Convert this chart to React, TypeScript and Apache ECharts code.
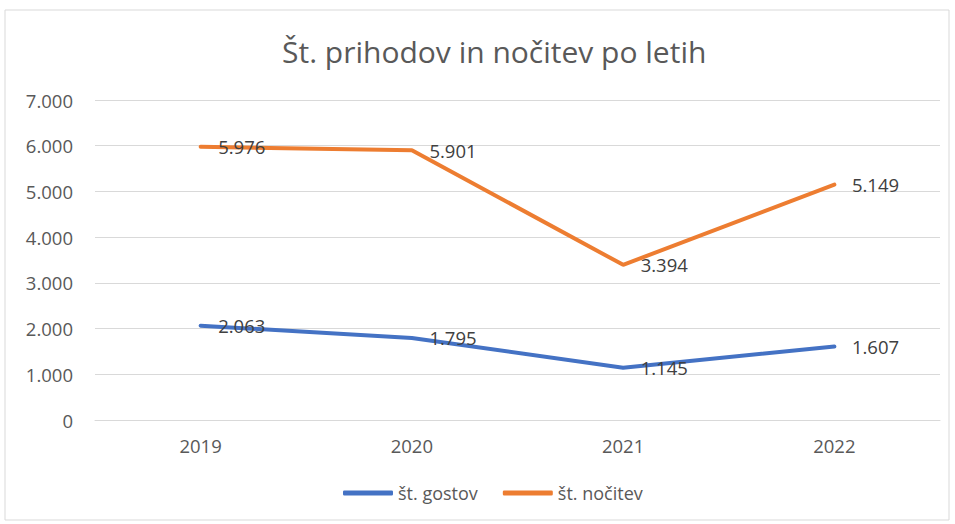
import React, { useEffect, useRef } from "react";
import * as echarts from "echarts";

const categories = ["2019", "2020", "2021", "2022"];
const gostov = [2063, 1795, 1145, 1607];
const nocitev = [5976, 5901, 3394, 5149];
const seriesNames = ["št. gostov", "št. nočitev"];
const titleText = "Št. prihodov in nočitev po letih";

const fmt = (v: number) => {
  const s = String(Math.round(v));
  return s.replace(/\B(?=(\d{3})+(?!\d))/g, ".");
};

const FONT = "'Open Sans', sans-serif";

export default function App() {
  const ref = useRef<HTMLDivElement>(null);
  useEffect(() => {
    const chart = echarts.init(ref.current!, null, { renderer: "svg" });
    const label = {
      show: true,
      position: "right" as const,
      distance: 17,
      color: "#404040",
      fontSize: 18.5,
      fontFamily: FONT,
      formatter: (p: any) => fmt(p.value),
    };
    chart.setOption({
      animation: false,
      backgroundColor: "#ffffff",
      title: {
        text: titleText,
        left: 277,
        top: 31,
        textStyle: { color: "#595959", fontSize: 30, fontWeight: "normal", fontFamily: FONT },
      },
      graphic: [
        {
          type: "rect",
          shape: { x: 5, y: 10, width: 944, height: 510 },
          style: { fill: "none", stroke: "#d9d9d9", lineWidth: 1 },
          silent: true,
        },
      ],
      legend: {
        bottom: 17,
        left: 338,
        icon: "roundRect",
        itemWidth: 50,
        itemHeight: 5,
        itemGap: 25,
        textStyle: { color: "#595959", fontSize: 18, fontFamily: FONT },
        data: seriesNames,
      },
      grid: { left: 95, right: 15, top: 100, bottom: 104 },
      xAxis: {
        type: "category",
        data: categories,
        boundaryGap: true,
        axisLine: { lineStyle: { color: "#d9d9d9" } },
        axisTick: { show: false },
        axisLabel: { color: "#595959", fontSize: 18.5, fontFamily: FONT, margin: 16 },
      },
      yAxis: {
        type: "value",
        min: 0,
        max: 7000,
        interval: 1000,
        axisLine: { show: false },
        axisTick: { show: false },
        splitLine: { lineStyle: { color: "#d9d9d9", width: 1 } },
        axisLabel: { color: "#595959", fontSize: 18.5, fontFamily: FONT, margin: 22, formatter: fmt },
      },
      series: [
        {
          name: seriesNames[0],
          type: "line",
          data: gostov,
          color: "#4472C4",
          symbol: "circle",
          symbolSize: 1,
          lineStyle: { width: 4, color: "#4472C4", cap: "round" },
          itemStyle: { color: "#4472C4" },
          label,
        },
        {
          name: seriesNames[1],
          type: "line",
          data: nocitev,
          color: "#ED7D31",
          symbol: "circle",
          symbolSize: 1,
          lineStyle: { width: 4, color: "#ED7D31", cap: "round" },
          itemStyle: { color: "#ED7D31" },
          label,
        },
      ],
    });
    return () => chart.dispose();
  }, []);
  return (
    <div
      ref={ref}
      style={{ position: "fixed", left: 0, top: 0, width: 955, height: 524 }}
    />
  );
}
